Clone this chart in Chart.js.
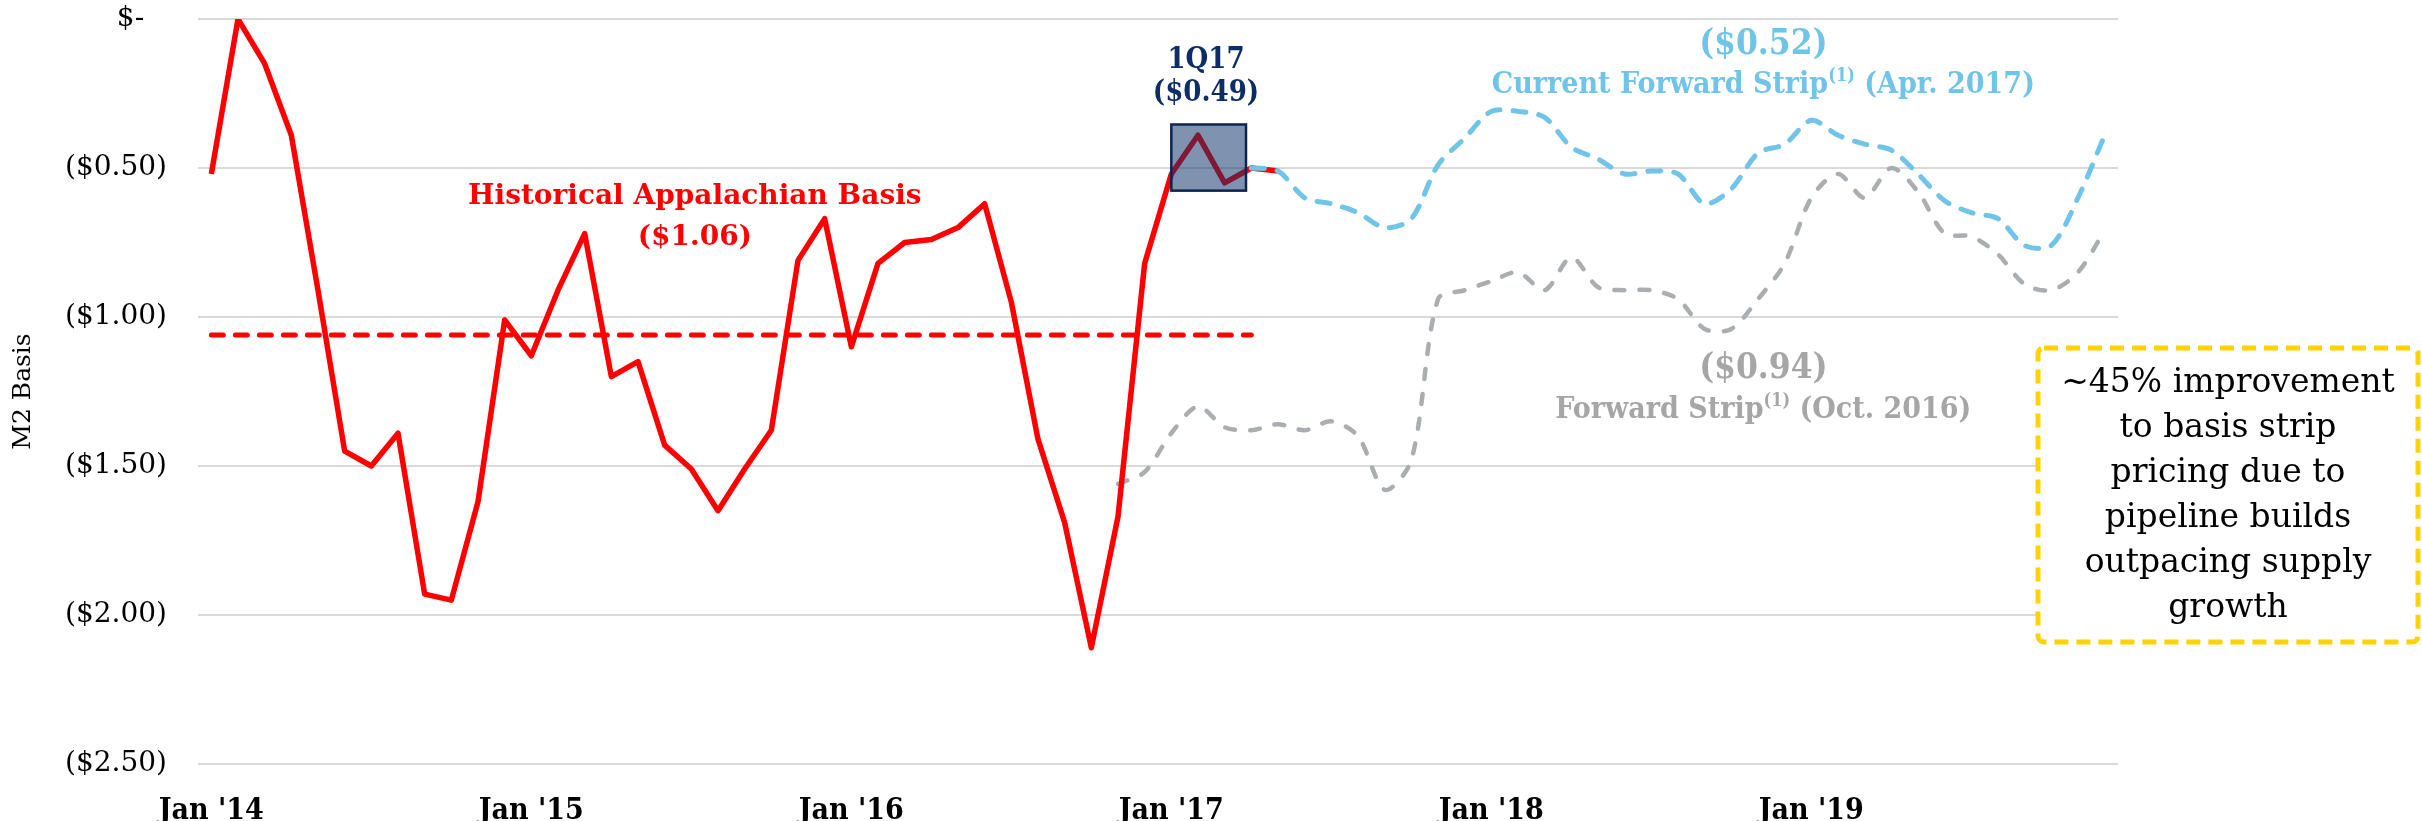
<!DOCTYPE html>
<html lang="en">
<head>
    <meta charset="UTF-8">
    <title>M2 Basis</title>
    <style>
        body {
            margin: 0;
            background-color: #ffffff;
        }
        .container {
            position: relative;
            width: 2422px;
            height: 821px;
        }
    </style>
</head>
<body>
    <div class="container">
        <canvas id="basis-chart"></canvas>
    </div>
    <script src="https://cdnjs.cloudflare.com/ajax/libs/Chart.js/4.4.1/chart.umd.min.js"></script>
    <script>
        // monthly categories, Jan 2014 - Dec 2019
        const years = ['14', '15', '16', '17', '18', '19'];
        const months = ['Jan', 'Feb', 'Mar', 'Apr', 'May', 'Jun', 'Jul', 'Aug', 'Sep', 'Oct', 'Nov', 'Dec'];
        const categories = [];
        years.forEach(y => months.forEach(m => categories.push(m + " '" + y)));

        const xTickLabels = ["Jan '14", "Jan '15", "Jan '16", "Jan '17", "Jan '18", "Jan '19"];
        const yTicks = [0, -0.5, -1.0, -1.5, -2.0, -2.5];

        // Historical Appalachian basis, Jan '14 - May '17
        const historicalBasis = [
            -0.52, 0.00, -0.15, -0.39, -0.91, -1.45, -1.50, -1.39, -1.93, -1.95, -1.62, -1.01,
            -1.13, -0.91, -0.72, -1.20, -1.15, -1.43, -1.51, -1.65, -1.51, -1.38, -0.81, -0.67,
            -1.10, -0.82, -0.75, -0.74, -0.70, -0.62, -0.95, -1.41, -1.69, -2.11, -1.67, -0.82,
            -0.52, -0.39, -0.55, -0.50, -0.51
        ];
        const historicalAverage = -1.06;
        const historicalAverageEnd = 39;

        // Forward strip as of Oct. 2016, Nov '16 - Dec '19
        const octStripStart = 34;
        const octStrip = [
            -1.56, -1.52,
            -1.39, -1.30, -1.37, -1.38, -1.36, -1.38, -1.35, -1.40, -1.58, -1.48, -0.94, -0.91,
            -0.88, -0.85, -0.91, -0.80, -0.90, -0.91, -0.91, -0.94, -1.04, -1.04, -0.94, -0.82,
            -0.60, -0.52, -0.60, -0.50, -0.58, -0.72, -0.73, -0.79, -0.89, -0.91, -0.85, -0.71
        ];

        // Current forward strip as of Apr. 2017, Apr '17 - Dec '19
        const aprStripStart = 39;
        const aprStrip = [
            -0.50, -0.51, -0.60, -0.62, -0.65, -0.70, -0.67, -0.49, -0.40,
            -0.31, -0.31, -0.33, -0.43, -0.47, -0.52, -0.51, -0.52, -0.62, -0.57, -0.45, -0.42,
            -0.34, -0.39, -0.42, -0.44, -0.52, -0.61, -0.65, -0.67, -0.76, -0.76, -0.60, -0.39
        ];

        // 1Q17 highlight box (category index / value units)
        const q1Box = { xMin: 36, xMax: 38.8, yMin: -0.576, yMax: -0.354 };

        function pad(values, start) {
            const out = new Array(categories.length).fill(null);
            values.forEach((v, i) => { out[start + i] = v; });
            return out;
        }

        const SERIF = "'DejaVu Serif', serif";
        const COND = "'DejaVu Serif Condensed', 'DejaVu Serif', serif";

        function drawParts(ctx, parts, cx, cy, color) {
            let total = 0;
            parts.forEach(p => {
                ctx.font = `bold ${p.size}px ${p.family}`;
                p.w = ctx.measureText(p.text).width;
                total += p.w;
            });
            let x = cx - total / 2;
            ctx.fillStyle = color;
            ctx.textAlign = 'left';
            ctx.textBaseline = 'middle';
            parts.forEach(p => {
                ctx.font = `bold ${p.size}px ${p.family}`;
                ctx.fillText(p.text, x, cy - (p.raise || 0));
                x += p.w;
            });
        }

        const overlay = {
            id: 'overlay',
            afterDatasetsDraw(chart) {
                const { ctx, scales: { x, y } } = chart;
                ctx.save();

                // 1Q17 box
                const bx1 = x.getPixelForValue(q1Box.xMin);
                const bx2 = x.getPixelForValue(q1Box.xMax);
                const by1 = y.getPixelForValue(q1Box.yMax);
                const by2 = y.getPixelForValue(q1Box.yMin);
                ctx.fillStyle = 'rgba(10, 48, 105, 0.52)';
                ctx.fillRect(bx1, by1, bx2 - bx1, by2 - by1);
                ctx.strokeStyle = '#0c2450';
                ctx.lineWidth = 2.5;
                ctx.strokeRect(bx1, by1, bx2 - bx1, by2 - by1);

                const red = '#ff0000';
                const navy = '#0c2d66';
                const blue = '#6fc4e8';
                const grey = '#a6a6a6';

                const hx = x.getPixelForValue(18.13);
                drawParts(ctx, [{ text: 'Historical Appalachian Basis', size: 28, family: SERIF }], hx, y.getPixelForValue(-0.597), red);
                drawParts(ctx, [{ text: '($1.06)', size: 28, family: SERIF }], hx, y.getPixelForValue(-0.735), red);

                const qx = x.getPixelForValue(37.3);
                drawParts(ctx, [{ text: '1Q17', size: 29, family: COND }], qx, y.getPixelForValue(-0.14), navy);
                drawParts(ctx, [{ text: '($0.49)', size: 29, family: COND }], qx, y.getPixelForValue(-0.25), navy);

                const sx = x.getPixelForValue(58.2);
                drawParts(ctx, [{ text: '($0.52)', size: 35, family: COND }], sx, y.getPixelForValue(-0.087), blue);
                drawParts(ctx, [
                    { text: 'Current Forward Strip', size: 30, family: COND },
                    { text: '(1)', size: 18, family: COND, raise: 9 },
                    { text: ' (Apr. 2017)', size: 30, family: COND }
                ], sx, y.getPixelForValue(-0.221), blue);

                drawParts(ctx, [{ text: '($0.94)', size: 35, family: COND }], sx, y.getPixelForValue(-1.174), grey);
                drawParts(ctx, [
                    { text: 'Forward Strip', size: 30, family: COND },
                    { text: '(1)', size: 18, family: COND, raise: 9 },
                    { text: ' (Oct. 2016)', size: 30, family: COND }
                ], sx, y.getPixelForValue(-1.312), grey);

                // callout box on the right
                const cx1 = 2038, cy1 = 348, cw = 380, ch = 294;
                ctx.fillStyle = '#ffffff';
                ctx.beginPath();
                ctx.roundRect(cx1, cy1, cw, ch, 6);
                ctx.fill();
                ctx.setLineDash([14, 8]);
                ctx.lineWidth = 5;
                ctx.strokeStyle = '#ffd200';
                ctx.stroke();
                ctx.setLineDash([]);

                const lines = ['~45% improvement', 'to basis strip', 'pricing due to', 'pipeline builds', 'outpacing supply', 'growth'];
                ctx.fillStyle = '#000000';
                ctx.font = `33px ${SERIF}`;
                ctx.textAlign = 'center';
                ctx.textBaseline = 'middle';
                lines.forEach((t, i) => ctx.fillText(t, cx1 + cw / 2, 383 + i * 45));

                ctx.restore();
            }
        };

        const ctx = document.getElementById('basis-chart');
        new Chart(ctx, {
            type: 'line',
            data: {
                labels: categories,
                datasets: [
                    {
                        label: 'Current Forward Strip (Apr. 2017)',
                        data: pad(aprStrip, aprStripStart),
                        borderColor: '#6fc4e8',
                        borderWidth: 5,
                        borderDash: [13, 13],
                        borderCapStyle: 'round',
                        tension: 0.3,
                        order: 0
                    },
                    {
                        label: 'Historical Appalachian Basis',
                        data: pad(historicalBasis, 0),
                        borderColor: '#ff0000',
                        borderWidth: 5.5,
                        borderJoinStyle: 'round',
                        tension: 0,
                        order: 1
                    },
                    {
                        label: 'Forward Strip (Oct. 2016)',
                        data: pad(octStrip, octStripStart),
                        borderColor: '#aaaeb1',
                        borderWidth: 4.5,
                        borderDash: [10, 15],
                        borderCapStyle: 'round',
                        tension: 0.3,
                        order: 2
                    },
                    {
                        label: 'Historical Average',
                        data: pad(new Array(historicalAverageEnd + 1).fill(historicalAverage), 0),
                        borderColor: '#ff0000',
                        borderWidth: 5,
                        borderDash: [12, 12],
                        borderCapStyle: 'round',
                        tension: 0,
                        order: 3
                    }
                ]
            },
            options: {
                responsive: true,
                maintainAspectRatio: false,
                animation: false,
                layout: {
                    padding: { top: 19, right: 304, left: 0, bottom: 0 }
                },
                elements: {
                    point: { radius: 0 }
                },
                scales: {
                    x: {
                        offset: true,
                        grid: { display: false },
                        border: { display: false },
                        ticks: {
                            autoSkip: false,
                            maxRotation: 0,
                            padding: 21,
                            color: '#000000',
                            font: { family: COND, size: 30, weight: 'bold' },
                            callback: function (val, idx) {
                                const lab = categories[idx];
                                return xTickLabels.includes(lab) ? lab : '';
                            }
                        },
                        afterFit: function (scale) { scale.height = 57; }
                    },
                    y: {
                        min: -2.5,
                        max: 0,
                        afterBuildTicks: function (scale) {
                            scale.ticks = yTicks.map(v => ({ value: v }));
                        },
                        grid: {
                            color: '#d9d9d9',
                            lineWidth: 2,
                            drawTicks: false
                        },
                        border: { display: false },
                        ticks: {
                            padding: 31,
                            color: '#000000',
                            font: { family: SERIF, size: 28 },
                            callback: function (v) {
                                if (v === 0) return '$- \u2002';
                                return '($' + Math.abs(v).toFixed(2) + ')';
                            }
                        },
                        title: {
                            display: true,
                            text: 'M2 Basis',
                            color: '#000000',
                            font: { family: SERIF, size: 25 },
                            padding: { top: 8, bottom: 0 }
                        },
                        afterFit: function (scale) {
                            scale.width = 198;
                            scale.paddingTop = 0;
                            scale.paddingBottom = 0;
                        }
                    }
                },
                plugins: {
                    legend: { display: false },
                    tooltip: { enabled: false }
                }
            },
            plugins: [overlay]
        });
    </script>
</body>
</html>
